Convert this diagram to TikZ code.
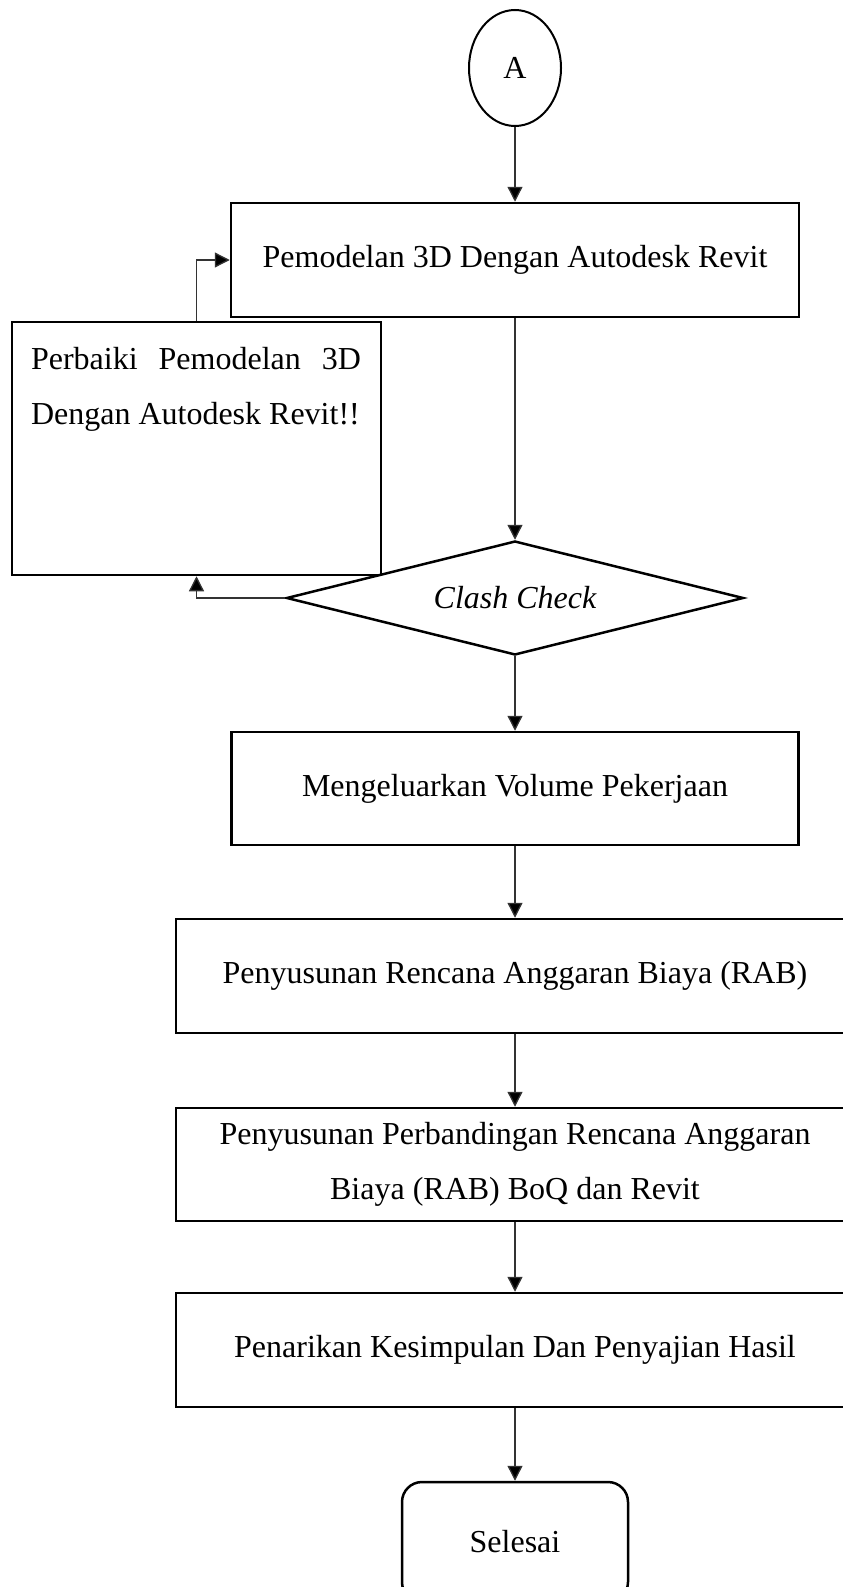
\documentclass[tikz,border=0pt]{standalone}
\usepackage{fontspec}
\setmainfont{Liberation Serif}
\usetikzlibrary{arrows.meta, shapes.geometric, positioning, calc}

\begin{document}
\begin{tikzpicture}[x=1pt, y=-1pt,
		txt/.style={font=\fontsize{32}{55}\selectfont},
		kotak/.style={draw, line width=2.5pt, inner sep=0pt, txt},
		panah/.style={line width=1.3pt, draw=black!80, -{Triangle[length=15pt, width=15pt, fill=black]}}]
								\useasboundingbox (0,0) rectangle (843,1587);

								\node[draw, ellipse, line width=2pt, inner sep=0pt, minimum width=92pt, minimum height=116pt, txt] (mulai) at (515,68) {A};

								\node[kotak, minimum width=568pt, minimum height=114pt] (model) at (515,260) {Pemodelan 3D Dengan Autodesk Revit};

								\node[kotak, minimum width=369pt, minimum height=253pt] (fix) at (196.5,448.5) {};
								\node[txt, text width=330pt, align=justify, inner sep=0pt] (fixtxt) at (196,389) {Perbaiki Pemodelan 3D\linebreak Dengan Autodesk Revit!!};

								\node[kotak, diamond, aspect=4, minimum width=457pt, minimum height=114pt, font=\fontsize{32}{55}\selectfont\itshape] (clash) at (515,598) {Clash Check};

								\node[kotak, minimum width=567pt, minimum height=113pt] (volume) at (515,788.5) {Mengeluarkan Volume Pekerjaan};

								\node[kotak, minimum width=678pt, minimum height=114pt] (rab) at (515,976) {Penyusunan Rencana Anggaran Biaya (RAB)};

								\node[kotak, minimum width=678pt, minimum height=113pt, align=center] (banding) at (515,1164.5) {Penyusunan Perbandingan Rencana Anggaran\\Biaya (RAB) BoQ dan Revit};

								\node[kotak, minimum width=678pt, minimum height=114pt] (hasil) at (515,1350) {Penarikan Kesimpulan Dan Penyajian Hasil};

								\node[kotak, rounded corners=20pt, minimum width=226pt, minimum height=120pt] (selesai) at (515,1542) {Selesai};

								% alur utama
								\draw[panah] (mulai) -- (model);
								\draw[panah] (model) -- (clash);
								\draw[panah] (clash) -- (volume);
								\draw[panah] (volume) -- (rab);
								\draw[panah] (rab) -- (banding);
								\draw[panah] (banding) -- (hasil);
								\draw[panah] (hasil) -- (selesai);

								% perbaikan
								\draw[panah] (clash.west) -| (fix.south);
								\draw[panah] (fix.north) |- (model.west);
							\end{tikzpicture}
\end{document}
